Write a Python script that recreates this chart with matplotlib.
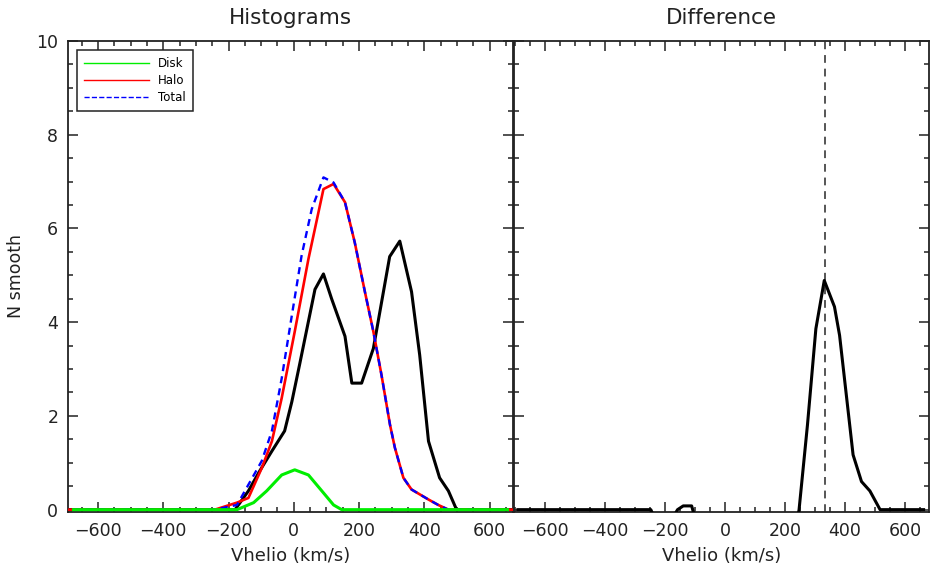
import matplotlib
matplotlib.use("Agg")
import matplotlib.pyplot as plt
from matplotlib.ticker import MultipleLocator
import numpy as np

# observed smoothed histogram (black)
obs_v = [-690, -180, -139, -104, -67, -28, -6, 18, 65, 91, 116, 157, 178, 208,
         244, 294, 325, 361, 386, 413, 447, 474, 499, 672]
obs_n = [0, 0, 0.4, 0.83, 1.25, 1.68, 2.3, 3.1, 4.7, 5.03, 4.5, 3.7, 2.7, 2.7,
         3.44, 5.4, 5.73, 4.65, 3.3, 1.46, 0.68, 0.4, 0, 0]

# halo model (red)
halo_v = [-690, -242, -174, -139, -98, -67, -37, 3, 45, 91, 122, 157, 187, 218,
          244, 269, 295, 310, 336, 361, 412, 443, 474, 672]
halo_n = [0, 0, 0.15, 0.25, 0.89, 1.46, 2.38, 3.8, 5.35, 6.84, 6.95, 6.56, 5.7, 4.65,
          3.8, 2.87, 1.81, 1.32, 0.68, 0.43, 0.22, 0.1, 0, 0]

# disk model (green)
disk_v = [-675, -174, -123, -83, -37, 3, 45, 86, 122, 147, 655]
disk_n = [0, 0, 0.15, 0.4, 0.74, 0.85, 0.74, 0.4, 0.1, 0, 0]

# total model (blue dashed)
total_v = [-675, -242, -174, -98, -67, -37, -6, 24, 55, 91, 122, 157, 187, 218,
           244, 269, 295, 310, 336, 361, 412, 443, 474, 655]
total_n = [0, 0, 0.1, 1.04, 1.68, 2.8, 4.14, 5.42, 6.41, 7.09, 6.98, 6.56, 5.7, 4.65,
           3.8, 2.87, 1.81, 1.32, 0.68, 0.43, 0.22, 0.1, 0, 0]

# difference observed - total (negative part falls below the plot)
diff_v = [-690, -247, -220, -185, -158, -139, -111, -90, 0, 200, 232, 247,
          275, 303, 331, 365, 382, 427, 455, 483, 517, 662]
diff_n = [0, 0, -0.4, -0.3, 0, 0.08, 0.08, -0.4, -1.5, -2.0, -0.6, 0,
          1.81, 3.86, 4.89, 4.33, 3.72, 1.17, 0.6, 0.4, 0, 0]
peak_v = 334

W, H = 931, 572
fig = plt.figure(figsize=(W / 100, H / 100), dpi=100)
ax1 = fig.add_axes([68 / W, (H - 512) / H, 445 / W, 471 / H])
ax2 = fig.add_axes([514 / W, (H - 512) / H, 415 / W, 471 / H])

tcol = '#222222'


def style(ax, xlim):
    ax.set_xlim(*xlim)
    ax.set_ylim(-0.05, 10)
    ax.xaxis.set_major_locator(MultipleLocator(200))
    ax.xaxis.set_minor_locator(MultipleLocator(50))
    ax.yaxis.set_major_locator(MultipleLocator(2))
    ax.yaxis.set_minor_locator(MultipleLocator(0.5))
    ax.tick_params(which='both', direction='in', top=True, right=True,
                   width=1.1, color='#222222', labelsize=12.5, labelcolor=tcol, pad=7)
    ax.tick_params(which='major', length=7)
    ax.tick_params(which='minor', length=3.5)
    for s in ax.spines.values():
        s.set_linewidth(1.3)
        s.set_color('#222222')
    ax.set_xlabel('Vhelio (km/s)', fontsize=13, color=tcol, labelpad=5)


style(ax1, (-692, 672))
style(ax2, (-703, 680))

ax1.plot(obs_v, obs_n, color='black', lw=2.2, zorder=2)
ax1.plot(halo_v, halo_n, color='#ff0000', lw=1.9, zorder=3, label='Halo')
ax1.plot(total_v, total_n, color='#0000ff', lw=1.7, ls=(0, (3, 2.2)), zorder=4, label='Total')
ax1.plot(disk_v, disk_n, color='#00ee00', lw=2.2, zorder=5, label='Disk')

h, l = ax1.get_legend_handles_labels()
order = [2, 0, 1]
handles = [plt.Line2D([], [], color=h[i].get_color(), lw=1, ls=h[i].get_linestyle())
           for i in order]
leg = ax1.legend(handles, [l[i] for i in order], loc='upper left',
                 bbox_to_anchor=(0.02, 0.981), borderaxespad=0, fontsize=8.5,
                 handlelength=5.5, fancybox=False, framealpha=1, edgecolor='#222222',
                 borderpad=0.6, labelspacing=0.35)
leg.get_frame().set_linewidth(1.1)

ax1.set_title('Histograms', fontsize=15.5, color=tcol, pad=12)
ax1.set_ylabel('N smooth', fontsize=12.5, color=tcol, labelpad=8)

ax2.plot(diff_v, diff_n, color='black', lw=2.2, zorder=3)
ax2.axvline(peak_v, color='#555555', lw=1.4, ls=(0, (4, 3)), zorder=2)
ax2.tick_params(labelleft=False)
ax2.set_title('Difference', fontsize=15.5, color=tcol, pad=12)

fig.savefig('out.png', dpi=100, facecolor='white')
